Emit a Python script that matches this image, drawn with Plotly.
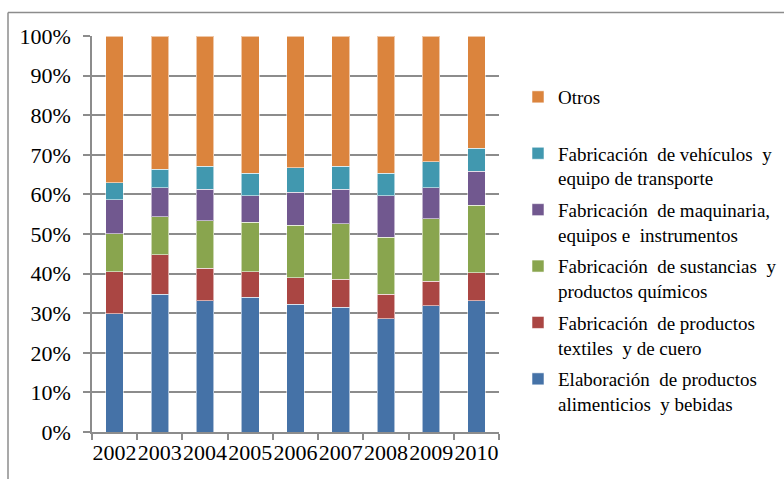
import plotly.graph_objects as go

# Share of manufacturing output by sector, 2002-2010 (percent of total)
years = ["2002", "2003", "2004", "2005", "2006", "2007", "2008", "2009", "2010"]

alimentos = [29.8, 34.8, 33.1, 34.0, 32.3, 31.5, 28.6, 31.9, 33.1]
textiles = [10.7, 9.9, 8.2, 6.5, 6.7, 7.1, 6.2, 6.2, 7.1]
quimicos = [9.6, 9.6, 12.1, 12.5, 13.2, 14.0, 14.4, 15.7, 17.0]
maquinaria = [8.6, 7.4, 7.9, 6.7, 8.3, 8.7, 10.5, 7.9, 8.6]
vehiculos = [4.2, 4.6, 5.8, 5.7, 6.2, 5.8, 5.7, 6.6, 5.9]
otros = [37.1, 33.7, 32.9, 34.6, 33.3, 32.9, 34.6, 31.7, 28.3]

series = [
    ("Elaboración\u00a0 de productos<br>alimenticios\u00a0 y bebidas", alimentos, "#4572A7"),
    ("Fabricación\u00a0 de productos<br>textiles\u00a0 y de cuero", textiles, "#AA4643"),
    ("Fabricación\u00a0 de sustancias\u00a0 y<br>productos químicos", quimicos, "#89A54E"),
    ("Fabricación\u00a0 de maquinaria,<br>equipos e\u00a0 instrumentos", maquinaria, "#71588F"),
    ("Fabricación\u00a0 de vehículos\u00a0 y<br>equipo de transporte", vehiculos, "#4198AF"),
    ("Otros<br>\u00a0", otros, "#DB843D"),
]

W, H = 784, 479
ML, MR, MT, MB = 92, 285, 36, 47
FONT = "Liberation Serif"
GRID = "#8c8c8c"

fig = go.Figure()
n = len(series)
for i, (name, vals, color) in enumerate(series):
    fig.add_trace(go.Bar(
        x=years, y=vals, name=name, legendgroup=f"g{i}", legendrank=n - i,
        marker=dict(color=color, line=dict(color="rgba(255,255,255,0.55)", width=1)),
    ))

pw = W - ML - MR
ph = H - MT - MB


def px_x(v):
    return (v - ML) / pw


def px_y(v):
    return (H - MB - v) / ph


fig.update_layout(
    width=W, height=H,
    margin=dict(l=ML, r=MR, t=MT, b=MB, pad=0, autoexpand=False),
    barmode="stack", bargap=0.61,
    plot_bgcolor="white", paper_bgcolor="white",
    font=dict(family=FONT, color="black"),
    legend=dict(
        x=px_x(518), y=px_y(78), xanchor="left", yanchor="top",
        traceorder="grouped", tracegroupgap=4, valign="top",
        font=dict(family=FONT, size=19, color="black"),
        bgcolor="rgba(0,0,0,0)",
    ),
    xaxis=dict(
        type="category", tickson="boundaries", ticks="outside", ticklen=6,
        tickcolor=GRID, tickwidth=1.5, showline=True, linecolor=GRID, linewidth=1.5,
        tickangle=0, tickfont=dict(size=22, family=FONT, color="black"),
        showgrid=False, fixedrange=True,
    ),
    yaxis=dict(
        range=[0, 100], dtick=10, ticksuffix="%", ticks="outside", ticklen=7,
        tickcolor=GRID, tickwidth=1.5, showline=True, linecolor=GRID, linewidth=1.5,
        showgrid=True, gridcolor=GRID, gridwidth=1.5, zeroline=False,
        tickfont=dict(size=22, family=FONT, color="black"),
        ticklabelstandoff=8,
        fixedrange=True,
    ),
    shapes=[
        dict(type="line", xref="paper", yref="paper",
             x0=px_x(8), x1=px_x(784), y0=px_y(12.5), y1=px_y(12.5),
             line=dict(color="#8c8c8c", width=1.5)),
        dict(type="line", xref="paper", yref="paper",
             x0=px_x(8), x1=px_x(8), y0=px_y(12.5), y1=px_y(479),
             line=dict(color="#8c8c8c", width=1.5)),
    ],
)

fig.write_html("out.html")
